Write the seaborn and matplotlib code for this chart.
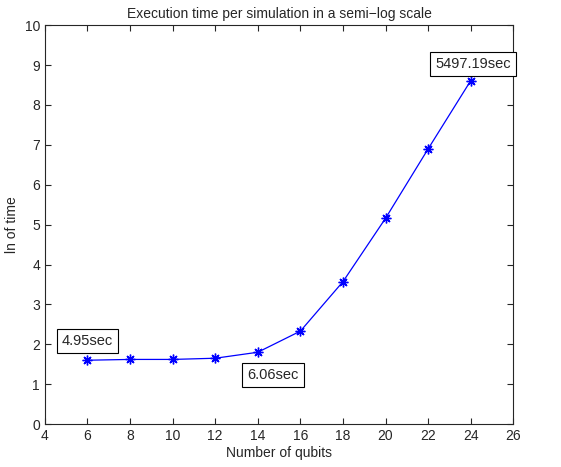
import pandas as pd
import seaborn as sns
import matplotlib
matplotlib.use("Agg")
import matplotlib.pyplot as plt

qubits = [6, 8, 10, 12, 14, 16, 18, 20, 22, 24]
ln_time = [1.60, 1.62, 1.62, 1.65, 1.80, 2.33, 3.57, 5.16, 6.90, 8.61]
labels = ["4.95sec", "6.06sec", "5497.19sec"]
label_pos = [(6.0, 2.08), (14.7, 1.23), (24.1, 9.02)]

sns.set_style("ticks")
plt.rcParams['font.family'] = ['Liberation Sans', 'DejaVu Sans']

fig = plt.figure(figsize=(5.61, 4.67), dpi=100)
ax = fig.add_axes([0.080, 0.092, 0.835, 0.854])

df = pd.DataFrame({"qubits": qubits, "ln_time": ln_time})
sns.lineplot(data=df, x="qubits", y="ln_time", color="blue", marker=(8, 2, 0),
             markersize=7, markeredgecolor="blue", markeredgewidth=1.0,
             linewidth=0.9, ax=ax)

for txt, (x, y) in zip(labels, label_pos):
    ax.text(x, y, txt, ha="center", va="center", fontsize=10.5,
            bbox=dict(boxstyle="square,pad=0.35", fc="white", ec="black", lw=0.8))

ax.set_xlim(4, 26)
ax.set_ylim(0, 10)
ax.set_xticks(range(4, 27, 2))
ax.set_yticks(range(0, 11))
ax.tick_params(direction="in", labelsize=10, length=4, top=True, right=True)
for s in ax.spines.values():
    s.set_linewidth(0.8)
ax.set_xlabel("Number of qubits", fontsize=10, labelpad=2)
ax.set_ylabel("ln of time", fontsize=10, labelpad=4)
ax.set_title("Execution time per simulation in a semi\u2212log scale", fontsize=10, pad=5)

fig.savefig("out.png", dpi=100)
